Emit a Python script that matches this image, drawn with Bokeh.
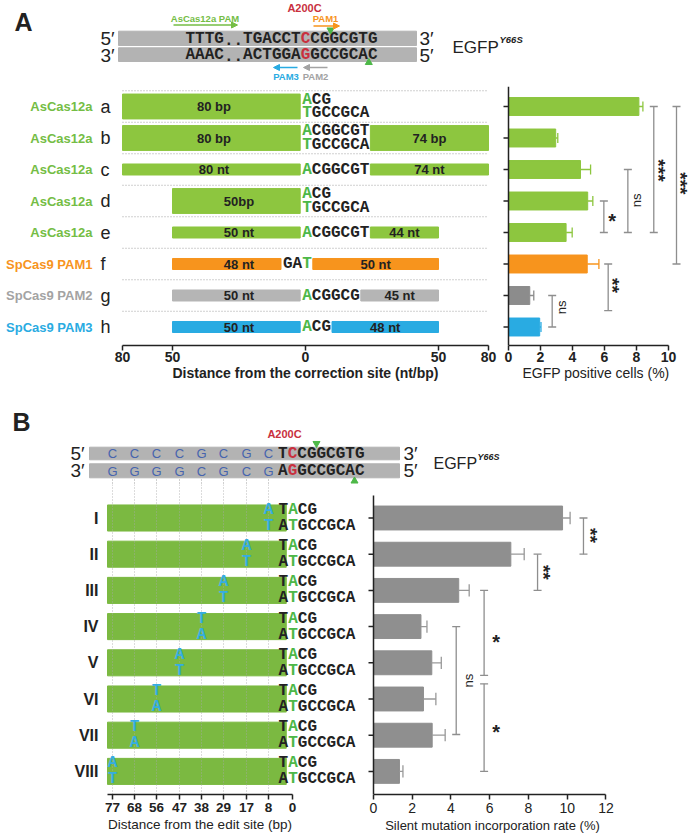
import numpy as np
from bokeh.plotting import figure
from bokeh.layouts import column, row
from bokeh.models import Range1d, FixedTicker, Arrow, NormalHead, ColumnDataSource
from bokeh.core.properties import value
from bokeh.embed import file_html
from bokeh.resources import INLINE

# ========================= DATA =========================
# ---- Panel A: donor designs and EGFP correction ----
a_rows = ["a", "b", "c", "d", "e", "f", "g", "h"]
a_enzymes = ["AsCas12a", "AsCas12a", "AsCas12a", "AsCas12a", "AsCas12a",
             "SpCas9 PAM1", "SpCas9 PAM2", "SpCas9 PAM3"]
a_left_span = [80, 80, 80, 50, 50, 50, 50, 50]
a_left_label = ["80 bp", "80 bp", "80 nt", "50bp", "50 nt", "48 nt", "50 nt", "50 nt"]
a_left_ds = [True, True, False, True, False, False, False, False]
a_right_end = [0, 80, 80, 0, 50, 50, 50, 50]
a_right_label = ["", "74 bp", "74 nt", "", "44 nt", "50 nt", "45 nt", "48 nt"]
a_right_ds = [False, True, False, False, False, False, False, False]
a_top_seq = ["ACG", "ACGGCGT", "ACGGCGT", "ACG", "ACGGCGT", "GAT", "ACGGCG", "ACG"]
a_bot_seq = ["TGCCGCA", "TGCCGCA", "", "TGCCGCA", "", "", "", ""]
a_edit_idx = [0, 0, 0, 0, 0, 2, 0, 0]
egfp_mean = [8.15, 2.95, 4.5, 4.95, 3.6, 4.92, 1.33, 1.95]
egfp_err = [0.25, 0.13, 0.63, 0.32, 0.38, 0.73, 0.25, 0.08]
a_ticks = [-80, -50, 0, 50, 80]
a_tick_labels = ["80", "50", "0", "50", "80"]
egfp_ticks = [0, 2, 4, 6, 8, 10]
# significance brackets (row from, row to, x in %, label, label x, label y)
a_sig_from = [3, 2, 0, 0, 5, 6]
a_sig_to = [4, 4, 4, 5, 6.48, 7]
a_sig_x = [5.96, 7.46, 9.08, 10.5, 6.23, 2.73]
a_sig_label = ["*", "ns", "***", "***", "**", "ns"]
a_sig_tx = [6.48, 7.98, 9.67, 11.02, 6.79, 3.29]
a_sig_ty = [3.51, 2.98, 2.03, 2.44, 5.68, 6.38]
hdrA_top = "TTTG..TGACCTCCGGCGTG"
hdrA_bot = "AAAC..ACTGGAGGCCGCAC"
hdrA_red = 12

# ---- Panel B: silent mutation position ----
b_rows = ["I", "II", "III", "IV", "V", "VI", "VII", "VIII"]
b_slots = [8, 17, 29, 38, 47, 56, 68, 77]
b_ticks = [77, 68, 56, 47, 38, 29, 17, 8, 0]
b_strand_top = ["C", "G", "C", "G", "C", "C", "C", "C"]   # at b_slots
b_strand_bot = ["G", "C", "G", "C", "G", "G", "G", "G"]
b_mut_pos = [8, 17, 29, 38, 47, 56, 68, 77]
b_mut_top = ["A", "A", "A", "T", "A", "T", "T", "A"]
b_mut_bot = ["T", "T", "T", "A", "T", "A", "A", "T"]
silent_mean = [9.76, 7.09, 4.40, 2.45, 3.01, 2.58, 3.03, 1.34]
silent_err = [0.39, 0.69, 0.54, 0.31, 0.49, 0.64, 0.67, 0.18]
silent_ticks = [0, 2, 4, 6, 8, 10, 12]
b_sig_from = [0, 1, 2, 4.58, 3]
b_sig_to = [1, 2, 4.35, 7, 5.98]
b_sig_x = [10.84, 8.47, 5.71, 5.71, 4.27]
b_sig_label = ["**", "**", "*", "*", "ns"]
b_sig_tx = [11.45, 9.03, 6.33, 6.33, 4.9]
b_sig_ty = [0.48, 1.5, 3.32, 5.8, 4.49]
hdrB_top = "TCCGGCGTG"
hdrB_bot = "AGGCCGCAC"
rowB_top = "TACG"
rowB_bot = "ATGCCGCA"

# ========================= STYLE =========================
SANS = "Liberation Sans"
MONO = "Liberation Mono"
CW = 9.6
GREEN = "#8dc63f"
GREEN_B = "#7bb941"
LET_G = "#4db848"
LAB_G = "#74bd45"
ORANGE = "#f7941d"
GRAY_L = "#b5b5b5"
GRAY_D = "#8c8c8c"
BLUE = "#29abe2"
RED = "#c9303e"
DARK = "#222222"
STRAND = "#b3b3b3"
BR = "#8e8e8e"
a_colors = [GREEN] * 5 + [ORANGE, GRAY_L, BLUE]
a_bar_colors = [GREEN] * 5 + [ORANGE, GRAY_D, BLUE]
a_lab_colors = [LAB_G] * 5 + [ORANGE, "#a3a3a3", BLUE]
W = 693


def ax_a(d):
    # broken schematic axis of panel A
    return float(np.sign(d) * np.interp(abs(d), [0, 50, 80], [0, 133, 183]))


def ax_b(d):
    # slot axis of panel B
    if d == 0:
        return 0.0
    return -float(round(24 + 22.3 * b_slots.index(d)))


def fig(w, h, xr, yr, **kw):
    p = figure(width=w, height=h, x_range=xr, y_range=yr, output_backend="svg",
               toolbar_location=None, **kw)
    p.outline_line_color = None
    p.xgrid.grid_line_color = None
    p.ygrid.grid_line_color = None
    p.background_fill_color = "white"
    p.border_fill_color = "white"
    return p


def style_axis(ax, lsize, lstyle, title, tsize, tstyle, lstand=2, tstand=1):
    ax.axis_line_width = 1.5
    ax.axis_line_color = DARK
    ax.major_tick_line_width = 1.5
    ax.major_tick_line_color = DARK
    ax.major_tick_out = 5
    ax.major_tick_in = 0
    ax.minor_tick_line_color = None
    ax.major_label_text_font = SANS
    ax.major_label_text_font_size = lsize
    ax.major_label_text_font_style = lstyle
    ax.major_label_text_color = DARK
    ax.major_label_standoff = lstand
    ax.axis_label = title
    ax.axis_label_text_font = SANS
    ax.axis_label_text_font_size = tsize
    ax.axis_label_text_font_style = tstyle
    ax.axis_label_text_color = DARK
    ax.axis_label_standoff = tstand


def bar_y_axis(p, ticks, y_top, y_bot, px):
    # vertical category axis of a bar chart: line at x=0 and outward ticks
    p.segment(x0=[0], x1=[0], y0=[y_top], y1=[y_bot], line_color=DARK, line_width=1.5)
    p.segment(x0=[-5 / px] * len(ticks), x1=[0] * len(ticks), y0=ticks, y1=ticks,
              line_color=DARK, line_width=1.5)


def new_chars():
    return dict(x=[], y=[], t=[], c=[])


def add_chars(store, x_first, y, seq, colors):
    for i, ch in enumerate(seq):
        store["x"].append(x_first + i * CW)
        store["y"].append(y)
        store["t"].append(ch)
        store["c"].append(colors[i])


def draw_chars(p, store, size="16px"):
    p.text(x="x", y="y", text="t", text_color="c", source=ColumnDataSource(store),
           text_font=value(MONO), text_font_style="bold", text_font_size=size,
           text_align="center", text_baseline="middle")


def txt(p, x, y, t, size, color=DARK, style="normal", align="left", angle=0.0,
        baseline="middle"):
    p.text(x=x, y=y, text=t, text_font=value(SANS), text_font_size=size,
           text_font_style=style, text_color=color, text_align=align,
           text_baseline=baseline, angle=angle)


def arrow(p, x0, x1, y, c):
    p.add_layout(Arrow(end=NormalHead(size=6, fill_color=c, line_color=c),
                       x_start=x0, y_start=y, x_end=x1, y_end=y,
                       line_color=c, line_width=1.5))


def brackets(p, x, y0, y1, capdx):
    xs = list(x)
    p.segment(x0=xs, y0=list(y0), x1=xs, y1=list(y1), line_color=BR, line_width=1.3)
    p.segment(x0=[v - capdx for v in xs] * 2, y0=list(y0) + list(y1),
              x1=[v + capdx for v in xs] * 2, y1=list(y0) + list(y1),
              line_color=BR, line_width=1.3)


def sig_texts(p, tx, ty, labels, px_x, px_y):
    for x, y, lab in zip(tx, ty, labels):
        if lab == "ns":
            txt(p, [x], [y], [lab], "13px", align="center", angle=np.pi / 2)
        elif lab == "*":
            txt(p, [x], [y + 4 / px_y], [lab], "20px", style="bold", align="center")
        else:
            # stacked asterisks: rotated, anchored on the glyph-top side
            txt(p, [x + 6.0 / px_x], [y], [lab], "19px", style="bold", align="center",
                angle=-np.pi / 2, baseline="top")


# ========================= PANEL A HEADER =========================
hA = fig(W, 86, Range1d(0, W), Range1d(86, 0), x_axis_location=None, y_axis_location=None,
         min_border=0)
txt(hA, [14], [21], ["A"], "25px", style="bold")
hA.quad(left=[118, 118], right=[416, 416], top=[30.7, 47.3], bottom=[45, 61], color=STRAND)
ch = new_chars()
firstA = 305 - hdrA_red * CW
add_chars(ch, firstA, 38.5, hdrA_top, [RED if i == hdrA_red else DARK for i in range(len(hdrA_top))])
add_chars(ch, firstA, 54.7, hdrA_bot, [RED if i == hdrA_red else DARK for i in range(len(hdrA_bot))])
draw_chars(hA, ch)
txt(hA, [100, 100], [37.5, 54.5], ["5\u2032", "3\u2032"], "19px")
txt(hA, [419, 419], [37.5, 54.5], ["3\u2032", "5\u2032"], "19px")
txt(hA, [452], [47], ["EGFP"], "17px")
txt(hA, [499], [39], ["Y66S"], "9.5px", style="bold italic")
txt(hA, [304], [7], ["A200C"], "11px", color=RED, style="bold", align="center")
txt(hA, [204.5], [17.5], ["AsCas12a PAM"], "9.5px", color=LAB_G, style="bold", align="center")
txt(hA, [325], [17.5], ["PAM1"], "9.5px", color=ORANGE, style="bold", align="center")
txt(hA, [285.5], [75.5], ["PAM3"], "9.5px", color=BLUE, style="bold", align="center")
txt(hA, [315], [75.5], ["PAM2"], "9.5px", color="#a3a3a3", style="bold", align="center")
arrow(hA, 173, 237, 24.5, LAB_G)
arrow(hA, 313, 339, 25.5, ORANGE)
arrow(hA, 297, 273, 67, BLUE)
arrow(hA, 327, 303, 67, "#a3a3a3")
hA.scatter([330], [29.5], marker="inverted_triangle", size=7, color=LET_G)
hA.scatter([368.3], [62], marker="triangle", size=7, color=LET_G)

# ========================= PANEL A ROW LABELS =========================
A0 = 305  # page x of the 0 tick in panel A
A_ROW0, A_STEP = 106.0, 31.5
A_YT = (86 - A_ROW0) / A_STEP
A_YB = (345 - A_ROW0) / A_STEP
ks = list(range(len(a_rows)))
LA_W = 112
la = fig(LA_W, 304, Range1d(0, LA_W), Range1d(A_YB, A_YT), x_axis_location=None,
         y_axis_location=None, min_border_left=0, min_border_right=0, min_border_top=0,
         min_border_bottom=45)
la.text(x=[92] * 8, y=ks, text=a_enzymes, text_font=value(SANS), text_font_style="bold",
        text_font_size="13px", text_color=a_lab_colors, text_align="right", text_baseline="middle")
la.text(x=[100] * 8, y=ks, text=a_rows, text_font=value(SANS), text_font_size="18px",
        text_color=DARK, text_align="left", text_baseline="middle")

# ========================= PANEL A SCHEMATIC =========================
fa = fig(498 - LA_W, 304, Range1d(LA_W - A0, 498 - A0), Range1d(A_YB, A_YT), y_axis_location=None,
         min_border_left=0, min_border_right=0, min_border_top=0, min_border_bottom=45)
tick_pos = [int(round(ax_a(t))) for t in a_ticks]
fa.xaxis.ticker = FixedTicker(ticks=tick_pos)
fa.xaxis.major_label_overrides = {tp: lab for tp, lab in zip(tick_pos, a_tick_labels)}
fa.xaxis.bounds = (tick_pos[0], tick_pos[-1])
style_axis(fa.xaxis, "14px", "bold", "Distance from the correction site (nt/bp)", "14px", "bold",
           lstand=1, tstand=0)

fa.segment(x0=[tick_pos[0]] * 8, x1=[tick_pos[-1]] * 8, y0=[k - 0.5 for k in ks],
           y1=[k - 0.5 for k in ks], line_color="#a0a0a0", line_width=1, line_dash="1 2")

bars = dict(l=[], r=[], y=[], h=[], c=[])
blab = dict(x=[], y=[], t=[])
ch = new_chars()
for k in ks:
    top, bot = a_top_seq[k], a_bot_seq[k]
    first = 1.5 - a_edit_idx[k] * CW
    start = first - CW / 2
    ytop = k - 0.21 if bot else k
    add_chars(ch, first, ytop, top, [LET_G if i == a_edit_idx[k] else DARK for i in range(len(top))])
    if bot:
        add_chars(ch, first, k + 0.21, bot, [LET_G if i == 0 else DARK for i in range(len(bot))])
    lft = ax_a(-a_left_span[k])
    bars["l"].append(lft); bars["r"].append(start - 2); bars["y"].append(k)
    bars["h"].append(0.79 if a_left_ds[k] else 0.35); bars["c"].append(a_colors[k])
    blab["x"].append(lft / 2); blab["y"].append(k); blab["t"].append(a_left_label[k])
    if a_right_end[k] > 0:
        rl = start + len(top) * CW + 1
        rr = ax_a(a_right_end[k])
        bars["l"].append(rl); bars["r"].append(rr); bars["y"].append(k)
        bars["h"].append(0.79 if a_right_ds[k] else 0.35); bars["c"].append(a_colors[k])
        blab["x"].append((rl + rr) / 2); blab["y"].append(k); blab["t"].append(a_right_label[k])
fa.hbar(y="y", left="l", right="r", height="h", color="c", source=ColumnDataSource(bars))
fa.text(x="x", y="y", text="t", source=ColumnDataSource(blab), text_font=value(SANS),
        text_font_style="bold", text_font_size="13px", text_color=DARK,
        text_align="center", text_baseline="middle")
draw_chars(fa, ch)

# ========================= PANEL A BAR CHART =========================
PXA = 16.0
fa_r = fig(W - 498, 304, Range1d(-10 / PXA, (W - 508) / PXA), Range1d(A_YB, A_YT),
           y_axis_location=None,
           min_border_left=0, min_border_right=0, min_border_top=0, min_border_bottom=45)
fa_r.xaxis.ticker = FixedTicker(ticks=egfp_ticks)
fa_r.xaxis.bounds = (egfp_ticks[0], egfp_ticks[-1])
style_axis(fa_r.xaxis, "14px", "bold", "EGFP positive cells (%)", "14px", "normal",
           lstand=1, tstand=0)
fa_r.hbar(y=ks, left=0, right=egfp_mean, height=0.57, color=a_bar_colors)
ehi = [m + e for m, e in zip(egfp_mean, egfp_err)]
fa_r.segment(x0=egfp_mean, x1=ehi, y0=ks, y1=ks, line_color=a_bar_colors, line_width=1.3)
fa_r.segment(x0=ehi, x1=ehi, y0=[k - 0.16 for k in ks], y1=[k + 0.16 for k in ks],
             line_color=a_bar_colors, line_width=1.3)
bar_y_axis(fa_r, ks, A_YT, A_YB, PXA)
brackets(fa_r, a_sig_x, a_sig_from, a_sig_to, 4 / PXA)
sig_texts(fa_r, a_sig_tx, a_sig_ty, a_sig_label, PXA, A_STEP)

# ========================= PANEL B HEADER =========================
B0 = 292  # page x of the 0 tick in panel B
hB = fig(W, 94, Range1d(0, W), Range1d(484, 390), x_axis_location=None, y_axis_location=None,
         min_border=0)
txt(hB, [12], [421], ["B"], "25px", style="bold")
hB.quad(left=[89, 89], right=[399, 399], top=[446.7, 463.3], bottom=[459.3, 477.3], color=STRAND)
slot_px = [B0 + ax_b(d) for d in b_slots]
hB.text(x=slot_px, y=[453] * 8, text=b_strand_top, text_font=value(SANS), text_font_size="13px",
        text_color="#4664ae", text_align="center", text_baseline="middle")
hB.text(x=slot_px, y=[470.5] * 8, text=b_strand_bot, text_font=value(SANS), text_font_size="13px",
        text_color="#4664ae", text_align="center", text_baseline="middle")
ch = new_chars()
add_chars(ch, B0 - CW, 453.5, hdrB_top, [RED if i == 1 else DARK for i in range(len(hdrB_top))])
add_chars(ch, B0 - CW, 470.8, hdrB_bot, [RED if i == 1 else DARK for i in range(len(hdrB_bot))])
draw_chars(hB, ch)
txt(hB, [70, 70], [452.5, 470], ["5\u2032", "3\u2032"], "19px")
txt(hB, [403, 403], [452.5, 470], ["3\u2032", "5\u2032"], "19px")
txt(hB, [433], [463], ["EGFP"], "16px")
txt(hB, [477], [456], ["Y66S"], "9px", style="bold italic")
txt(hB, [284], [433.5], ["A200C"], "11px", color=RED, style="bold", align="center")
hB.scatter([316], [443], marker="inverted_triangle", size=7, color=LET_G)
hB.scatter([354], [480.5], marker="triangle", size=7, color=LET_G)
hB.segment(x0=slot_px, x1=slot_px, y0=[479] * 8, y1=[484] * 8, line_color="#a0a0a0",
           line_width=1, line_dash="1 2")

# ========================= PANEL B SCHEMATIC =========================
B_ROW0, B_STEP = 517.5, 36.2
B_YT = (484 - B_ROW0) / B_STEP
B_YB = (794 - B_ROW0) / B_STEP
kb = list(range(len(b_rows)))
FB_L = 39   # frame starts here so that the axis title centres under the axis
fb = fig(360, 354, Range1d(FB_L - B0, 360 - B0), Range1d(B_YB, B_YT), y_axis_location=None,
         min_border_left=FB_L, min_border_right=0, min_border_top=0, min_border_bottom=44)
btick_pos = [ax_b(d) for d in b_ticks]
fb.xaxis.ticker = FixedTicker(ticks=btick_pos)
fb.xaxis.major_label_overrides = {tp: str(d) for tp, d in zip(btick_pos, b_ticks)}
fb.xaxis.bounds = (btick_pos[0] - 5, 0)
style_axis(fb.xaxis, "13.5px", "bold", "Distance from the edit site (bp)", "13.5px", "normal",
           lstand=3, tstand=2)
seq_start_b = 0.5 - CW - CW / 2
fb.hbar(y=kb, left=ax_b(b_slots[-1]) - 5, right=seq_start_b + 0.8 * CW, height=0.72, color=GREEN_B)
fb.segment(x0=[ax_b(d) for d in b_slots], x1=[ax_b(d) for d in b_slots], y0=[B_YT] * 8,
           y1=[B_YB] * 8, line_color="#a8a8a8", line_width=1, line_dash="1 2", line_alpha=0.8)
ch = new_chars()
for k in kb:
    add_chars(ch, 0.5 - CW, k - 0.22, rowB_top, [LET_G if i == 1 else DARK for i in range(len(rowB_top))])
    add_chars(ch, 0.5 - CW, k + 0.22, rowB_bot, [LET_G if i == 1 else DARK for i in range(len(rowB_bot))])
    xm = ax_b(b_mut_pos[k])
    add_chars(ch, xm, k - 0.22, b_mut_top[k], ["#35ade2"])
    add_chars(ch, xm, k + 0.22, b_mut_bot[k], ["#35ade2"])
draw_chars(fb, ch)
fb.text(x=[98 - B0] * 8, y=kb, text=b_rows, text_font=value(SANS), text_font_style="bold",
        text_font_size="16px", text_color=DARK, text_align="right", text_baseline="middle")

# ========================= PANEL B BAR CHART =========================
PXB = 19.37
FBR_R = 624  # right frame edge (page px) so that the axis title centres under the axis
fb_r = fig(W - 360, 354, Range1d(-13 / PXB, (FBR_R - 373) / PXB), Range1d(B_YB, B_YT),
           y_axis_location=None,
           min_border_left=0, min_border_right=W - FBR_R, min_border_top=0, min_border_bottom=44)
fb_r.xaxis.ticker = FixedTicker(ticks=silent_ticks)
fb_r.xaxis.bounds = (silent_ticks[0], silent_ticks[-1])
style_axis(fb_r.xaxis, "14px", "normal", "Silent mutation incorporation rate (%)", "13px", "normal",
           lstand=3, tstand=2)
fb_r.hbar(y=kb, left=0, right=silent_mean, height=0.66, color="#8f8f8f")
shi = [m + e for m, e in zip(silent_mean, silent_err)]
fb_r.segment(x0=silent_mean, x1=shi, y0=kb, y1=kb, line_color="#999999", line_width=1.3)
fb_r.segment(x0=shi, x1=shi, y0=[k - 0.17 for k in kb], y1=[k + 0.17 for k in kb],
             line_color="#999999", line_width=1.3)
bar_y_axis(fb_r, kb, (495 - B_ROW0) / B_STEP, B_YB, PXB)
brackets(fb_r, b_sig_x, b_sig_from, b_sig_to, 4 / PXB)
sig_texts(fb_r, b_sig_tx, b_sig_ty, b_sig_label, PXB, B_STEP)

layout = column(hA, row(la, fa, fa_r), hB, row(fb, fb_r))
open("out.html", "w").write(file_html(layout, INLINE))
